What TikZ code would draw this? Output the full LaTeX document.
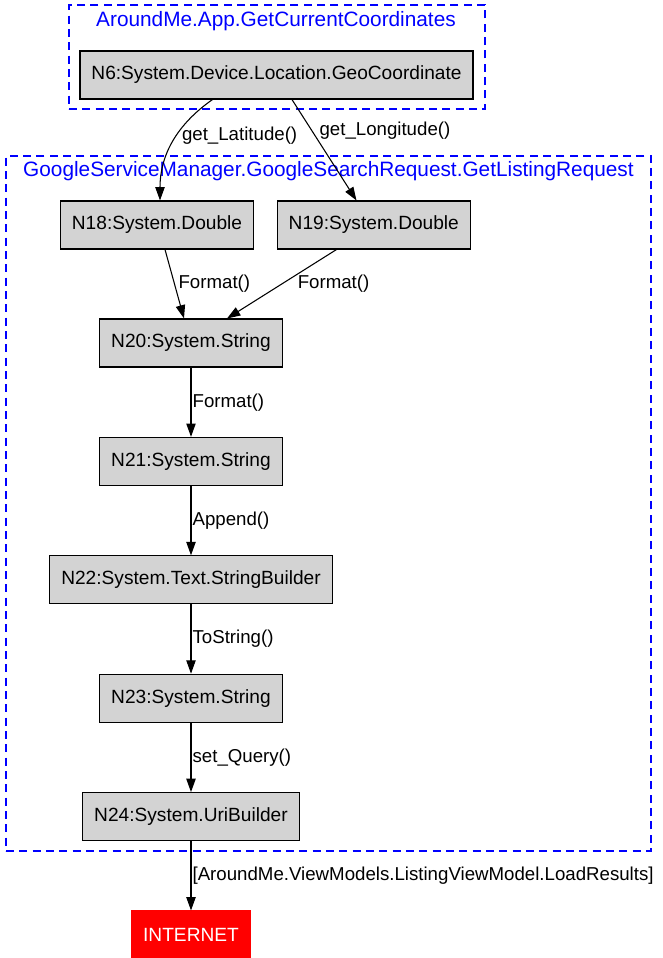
\documentclass[tikz,border=0pt]{standalone}
\usepackage{fontspec}
\setmainfont{Liberation Sans}
\usetikzlibrary{arrows.meta,positioning,fit}
\definecolor{objgray}{HTML}{D3D3D3}
\definecolor{zoneblue}{HTML}{0000FF}
\definecolor{netred}{HTML}{FF0000}

\begin{document}
\begin{tikzpicture}[x=0.75pt,y=-0.75pt,font=\fontsize{14.35}{17}\selectfont,
  obj/.style={draw,line width=0.8pt,fill=#1,inner xsep=8.6pt,minimum height=36pt},
  obj/.default=objgray,
  zone/.style={draw=zoneblue,dash pattern=on 6pt off 4pt,line width=0.8pt,inner sep=0pt},
  zonetxt/.style={text=zoneblue,inner sep=0pt,font=\fontsize{15.6}{18}\selectfont},
  arr/.style={-{Triangle[length=10pt,width=7pt]},line width=0.8pt},
  lbl/.style={inner sep=0.8pt,font=\fontsize{14}{17}\selectfont}]
\useasboundingbox (0,0) rectangle (663,958);
\node[zone,fit={(69,5)(485,109)}] (appzone) {};
\node[zonetxt] (apptitle) at (276,21) {AroundMe.App.GetCurrentCoordinates};
\node[zone,fit={(6,156)(651,851)}] (reqzone) {};
\node[zonetxt] (reqtitle) at (328.5,171) {GoogleServiceManager.GoogleSearchRequest.GetListingRequest};
\node[obj] (n6) at (276.5,75) {N6:System.Device.Location.GeoCoordinate};
\node[obj] (n18) at (157,225) {N18:System.Double};
\node[obj,right=17pt of n18] (n19) {N19:System.Double};
\node[obj] (n20) at (191,343) {N20:System.String};
\node[obj,below=52pt of n20] (n21) {N21:System.String};
\node[obj,below=52pt of n21] (n22) {N22:System.Text.StringBuilder};
\node[obj,below=52pt of n22] (n23) {N23:System.String};
\node[obj,below=52pt of n23] (n24) {N24:System.UriBuilder};
\node[obj=netred,draw=netred,text=white,below=52pt of n24] (inet) {INTERNET};
\draw[arr] ([xshift=-48pt]n6.south) to[out=215,in=90] node[lbl,pos=0.43,right=3pt]{get\_Latitude()} ([xshift=2.25pt]n18.north);
\draw[arr] ([xshift=11.6pt]n6.south) -- node[lbl,pos=0.31,right=4.5pt]{get\_Longitude()} ([xshift=-13pt]n19.north);
\draw[arr] ([xshift=6pt]n18.south) -- node[lbl,pos=0.49,right=2pt]{Format()} ([xshift=-5.25pt]n20.north);
\draw[arr] ([xshift=-28pt]n19.south) -- node[lbl,pos=0.49,right=10pt]{Format()} ([xshift=27pt]n20.north);
\draw[arr] (n20) -- node[lbl,right]{Format()} (n21);
\draw[arr] (n21) -- node[lbl,right]{Append()} (n22);
\draw[arr] (n22) -- node[lbl,right]{ToString()} (n23);
\draw[arr] (n23) -- node[lbl,right]{set\_Query()} (n24);
\draw[arr] (n24) -- node[lbl,right]{[AroundMe.ViewModels.ListingViewModel.LoadResults]} (inet);
\end{tikzpicture}
\end{document}
